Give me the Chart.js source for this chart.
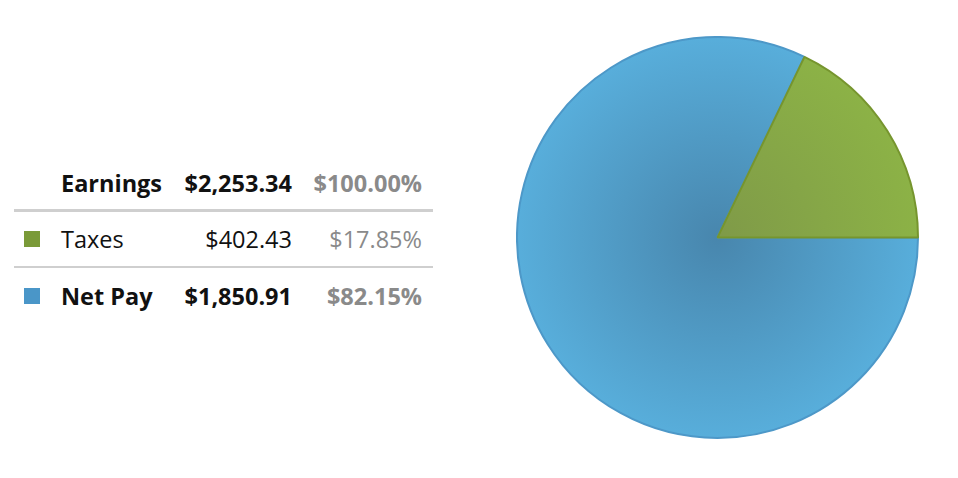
<!DOCTYPE html>
<html>
<head>
<meta charset="utf-8">
<script src="https://cdn.jsdelivr.net/npm/chart.js@4"></script>
<style>
  html, body { margin: 0; padding: 0; background: #fff; }
  body { width: 958px; height: 478px; position: relative; overflow: hidden; font-family: "Open Sans", sans-serif; }
  #legend { position: absolute; left: 14px; top: 157px; width: 419px; border-collapse: collapse; table-layout: fixed; font-size: 23.5px; color: #111; }
  #legend td { padding: 0; white-space: nowrap; vertical-align: middle; }
  #legend tr.head td { border-bottom: 3px solid #cfcfcf; height: 52px; }
  #legend tr.mid td { border-bottom: 2px solid #cfcfcf; height: 54px; }
  #legend tr.last td { height: 56px; }
  #legend td.sw { width: 37px; padding-left: 10px; }
  #legend td.sw span { display: block; width: 16px; height: 16px; }
  #legend td.lbl { width: 120px; }
  #legend td.amt { width: 111px; text-align: right; }
  #legend td.pct { text-align: right; color: #8a8a8a; padding-right: 11px; }
  #legend .bold td { font-weight: 700; }
  #chartBox { position: absolute; left: 516px; top: 36px; width: 403px; height: 403px; }
</style>
</head>
<body>
<table id="legend"></table>
<div id="chartBox"><canvas id="payChart"></canvas></div>
<script>
// Pay breakdown
const categories = ['Taxes', 'Net Pay'];
const amounts = [402.43, 1850.91];
const percents = [17.85, 82.15];
const totalLabel = 'Earnings';
const totalAmount = 2253.34;
const totalPercent = 100.00;

const colors = {
    swatch: ['#7a9a38', '#4a96c8'],
    inner: ['#7f9a48', '#4886ad'],
    outer: ['#8cb246', '#58aedb'],
    border: ['#76952e', '#4d98c8']
};

function money(v) {
    return '$' + v.toLocaleString('en-US', { minimumFractionDigits: 2, maximumFractionDigits: 2 });
}

// Legend table
function buildLegend() {
    const table = document.getElementById('legend');
    let html = '<tr class="head bold"><td class="sw"></td><td class="lbl">' + totalLabel + '</td><td class="amt">' +
        money(totalAmount) + '</td><td class="pct">$' + totalPercent.toFixed(2) + '%</td></tr>';
    categories.forEach((c, i) => {
        const cls = (i === 0 ? 'mid' : 'last bold');
        html += '<tr class="' + cls + '"><td class="sw"><span style="background:' + colors.swatch[i] + '"></span></td><td class="lbl">' +
            c + '</td><td class="amt">' + money(amounts[i]) + '</td><td class="pct">$' + percents[i].toFixed(2) + '%</td></tr>';
    });
    table.innerHTML = html;
}

function radialFill(ctx, i) {
    const chart = ctx.chart;
    const area = chart.chartArea;
    if (!area) return colors.outer[i];
    const cx = (area.left + area.right) / 2;
    const cy = (area.top + area.bottom) / 2;
    const r = Math.min(area.right - area.left, area.bottom - area.top) / 2;
    const g = chart.ctx.createRadialGradient(cx, cy, 0, cx, cy, r);
    g.addColorStop(0, colors.inner[i]);
    g.addColorStop(1, colors.outer[i]);
    return g;
}

function createPayChart(canvasId) {
    const ctx = document.getElementById(canvasId).getContext('2d');
    // draw Net Pay first so it starts at 3 o'clock and Taxes ends there
    const order = [1, 0];
    return new Chart(ctx, {
        type: 'pie',
        data: {
            labels: order.map(i => categories[i]),
            datasets: [{
                data: order.map(i => amounts[i]),
                backgroundColor: c => radialFill(c, order[c.dataIndex]),
                borderColor: order.map(i => colors.border[i]),
                borderWidth: 2
            }]
        },
        options: {
            responsive: true,
            maintainAspectRatio: false,
            animation: false,
            rotation: 90,
            layout: { padding: 0 },
            plugins: {
                legend: { display: false },
                tooltip: { enabled: false }
            }
        }
    });
}

buildLegend();
createPayChart('payChart');
</script>
</body>
</html>
